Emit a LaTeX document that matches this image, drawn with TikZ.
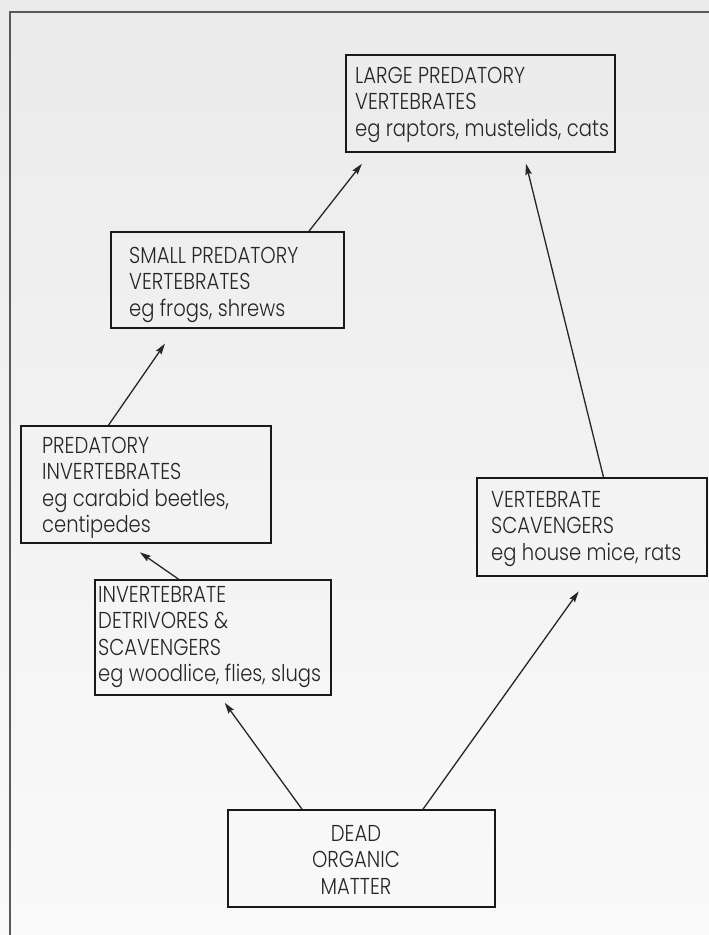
\documentclass[tikz,border=0pt]{standalone}
\usepackage{fontspec}
\setmainfont{Poppins}[UprightFont=* Light, FakeStretch=0.85]
\usetikzlibrary{arrows.meta,calc}
\tikzset{
  box/.style={draw=black!90, line width=1.6pt, rectangle, inner sep=0pt},
  lbl/.style={inner sep=0pt, text=black!85, font=\fontsize{23}{26.5}\selectfont},
  arr/.style={draw=black!85, line width=1.3pt, -{Stealth[length=11pt,width=6.5pt,inset=1.5pt]}},
  frame/.style={draw=black!65, line width=1.5pt}
}
\begin{document}
\begin{tikzpicture}[x=1pt,y=-1pt]
\useasboundingbox (0,0) rectangle (709,935);
\shade[top color=black!8, bottom color=black!2] (0,0) rectangle (709,935);
\coordinate (fa) at (709,12);
\coordinate (fb) at (10,12);
\coordinate (fc) at (10,935);
\draw[frame] (fa) -- (fb) -- (fc);

% boxes (centre, size)
\node[box, minimum width=269pt, minimum height=97pt] (L) at (480.5,103.5) {};
\node[box, minimum width=233pt, minimum height=96pt] (S) at (227.5,280) {};
\node[box, minimum width=250pt, minimum height=117pt] (P) at (146,484.5) {};
\node[box, minimum width=236pt, minimum height=115pt] (I) at (213,637.5) {};
\node[box, minimum width=230pt, minimum height=98pt] (V) at (592,527) {};
\node[box, minimum width=267pt, minimum height=97pt] (D) at (361.5,858.5) {};

% texts
\node[lbl, anchor=base west] (tL) at (355,83) {\begin{tabular}[t]{@{}l@{}}LARGE PREDATORY\\VERTEBRATES\\eg raptors, mustelids, cats\end{tabular}};
\node[lbl, anchor=base west] (tS) at (129,263) {\begin{tabular}[t]{@{}l@{}}SMALL PREDATORY\\VERTEBRATES\\eg frogs, shrews\end{tabular}};
\node[lbl, anchor=base west] (tP) at (42,453) {\begin{tabular}[t]{@{}l@{}}PREDATORY\\INVERTEBRATES\\eg carabid beetles,\\centipedes\end{tabular}};
\node[lbl, anchor=base west] (tI) at (98,602) {\begin{tabular}[t]{@{}l@{}}INVERTEBRATE\\DETRIVORES \&\\SCAVENGERS\\eg woodlice, flies, slugs\end{tabular}};
\node[lbl, anchor=base west] (tV) at (491,507) {\begin{tabular}[t]{@{}l@{}}VERTEBRATE\\SCAVENGERS\\eg house mice, rats\end{tabular}};
\node[lbl, anchor=base] (tD) at (356,841) {\begin{tabular}[t]{@{}c@{}}DEAD\\ORGANIC\\MATTER\end{tabular}};

% arrows
\draw[arr, shorten >=14pt] ([xshift=81.5pt]S.north) -- ([xshift=-110pt]L.south);
\draw[arr, shorten >=18pt] ([xshift=-37.5pt]P.north) -- ([xshift=-52.3pt]S.south);
\draw[arr, shorten >=15pt] ([xshift=-34.4pt]I.north) -- ([xshift=-18.4pt]P.south);
\draw[arr, shorten >=8.6pt] ([xshift=-59.5pt]D.north) -- ([xshift=6.7pt]I.south);
\draw[arr, shorten >=18pt] ([xshift=61.5pt]D.north) -- ([xshift=-2.9pt]V.south);
\draw[arr, shorten >=11.3pt] ([xshift=11.5pt]V.north) -- ([xshift=42.8pt]L.south);
\end{tikzpicture}
\end{document}
